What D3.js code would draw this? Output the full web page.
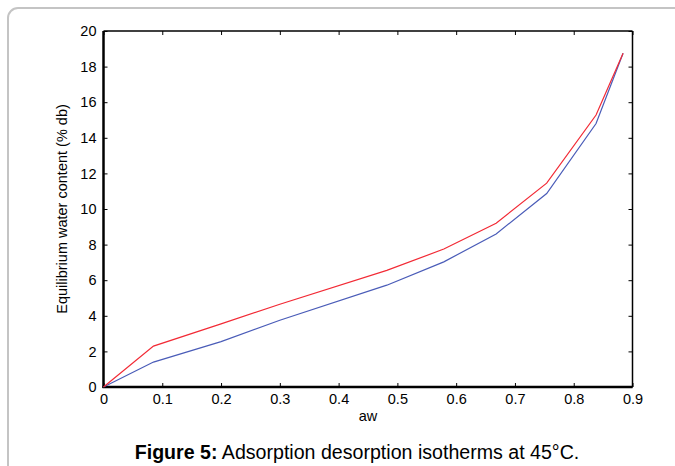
<!DOCTYPE html>
<html>
<head>
<meta charset="utf-8">
<script src="https://cdn.jsdelivr.net/npm/d3@7/dist/d3.min.js"></script>
<style>
html,body{margin:0;padding:0;background:#fff;}
svg{display:block;}
text{font-family:Arial,"Liberation Sans",sans-serif;fill:#000;}
</style>
</head>
<body>
<script>
const aw = [0, 0.085, 0.2, 0.3, 0.482, 0.579, 0.668, 0.754, 0.838, 0.884];
const desorption = [0, 2.3, 3.55, 4.65, 6.55, 7.75, 9.2, 11.45, 15.28, 18.75];
const adsorption = [0, 1.4, 2.55, 3.75, 5.72, 7.03, 8.6, 10.87, 14.8, 18.75];
const xTicks = [0, 0.1, 0.2, 0.3, 0.4, 0.5, 0.6, 0.7, 0.8, 0.9];
const yTicks = [0, 2, 4, 6, 8, 10, 12, 14, 16, 18, 20];
const xLabel = "aw";
const yLabel = "Equilibrium water content (% db)";
const captionBold = "Figure 5:";
const captionText = " Adsorption desorption isotherms at 45°C.";

const W = 675, H = 466;
const L = 103.5, R = 632.5, T = 31, B = 387;

const svg = d3.select("body").append("svg").attr("width", W).attr("height", H);

// frame
svg.append("rect").attr("x", 8).attr("y", 8).attr("width", 720).attr("height", 520)
  .attr("rx", 10).attr("fill", "none").attr("stroke", "#c4c4c4").attr("stroke-width", 2);

const x = d3.scaleLinear().domain([0, 0.9]).range([L, R]);
const y = d3.scaleLinear().domain([0, 20]).range([B, T]);

const tl = 4;
const gB = svg.append("g").attr("transform", `translate(0,${B})`)
  .call(d3.axisBottom(x).tickValues(xTicks).tickSize(-tl).tickPadding(7).tickFormat(d3.format("")));
const gT = svg.append("g").attr("transform", `translate(0,${T})`)
  .call(d3.axisTop(x).tickValues(xTicks).tickSize(-tl).tickFormat(""));
const gL = svg.append("g").attr("transform", `translate(${L},0)`)
  .call(d3.axisLeft(y).tickValues(yTicks).tickSize(-tl).tickPadding(7));
const gR = svg.append("g").attr("transform", `translate(${R},0)`)
  .call(d3.axisRight(y).tickValues(yTicks).tickSize(-tl).tickFormat(""));

[gB, gT, gL, gR].forEach(g => {
  g.selectAll(".domain").attr("stroke", "#000");
  g.selectAll(".tick line").attr("stroke", "#000").attr("stroke-width", 1);
  g.selectAll("text").attr("font-size", 14.5).attr("fill", "#000")
    .style("font-family", "Arial, 'Liberation Sans', sans-serif");
});
gB.select(".domain").attr("stroke-width", 2.5).attr("d", `M${L-1},0H${R}`);
gL.select(".domain").attr("stroke-width", 2.5).attr("d", `M0,${B+1}V${T}`);
gT.select(".domain").attr("stroke-width", 1.5).attr("d", `M${L},0H${R}`);
gR.select(".domain").attr("stroke-width", 1.5).attr("d", `M0,${B}V${T}`);

const line = d3.line().x(d => x(d[0])).y(d => y(d[1]));
svg.append("path").datum(aw.map((a, i) => [a, adsorption[i]]))
  .attr("d", line).attr("fill", "none").attr("stroke", "#4a5cb8").attr("stroke-width", 1.2);
svg.append("path").datum(aw.map((a, i) => [a, desorption[i]]))
  .attr("d", line).attr("fill", "none").attr("stroke", "#f22a35").attr("stroke-width", 1.2);

svg.append("text").attr("x", (L + R) / 2).attr("y", 421).attr("text-anchor", "middle")
  .attr("font-size", 14.5).text(xLabel);
svg.append("text").attr("transform", `translate(67,${(T + B) / 2}) rotate(-90)`)
  .attr("text-anchor", "middle").attr("font-size", 14.5).text(yLabel);

const cap = svg.append("text").attr("x", 357).attr("y", 459).attr("text-anchor", "middle")
  .attr("font-size", 19.6);
cap.append("tspan").attr("font-weight", "bold").text(captionBold);
cap.append("tspan").text(captionText);
</script>
</body>
</html>
